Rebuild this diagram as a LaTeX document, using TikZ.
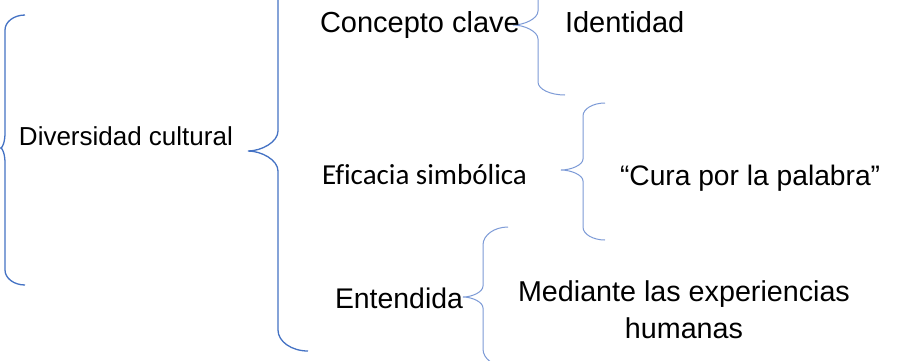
\documentclass[tikz,border=0pt]{standalone}
\usepackage{fontspec}
\setmainfont{Liberation Sans}
\newfontfamily\calibfont[Ligatures=NoCommon]{Carlito}
\definecolor{bracebig}{RGB}{68,114,196}
\definecolor{bracesmall}{RGB}{125,155,215}
\newcommand{\mybrace}[9]{% #1 style, #2 xe, #3 ytop, #4 xv, #5 r, #6 xt, #7 ym, #8 r2, #9 ybot
  \draw[#1] (#2,#3) .. controls ({#4+0.45*(#2-#4)},#3) and (#4,{#3+0.45*#5}) .. (#4,{#3+#5})
    -- (#4,{#7-#8}) .. controls (#4,{#7-0.45*#8}) and ({#6+0.45*(#4-#6)},#7) .. (#6,#7)
    .. controls ({#6+0.45*(#4-#6)},#7) and (#4,{#7+0.45*#8}) .. (#4,{#7+#8})
    -- (#4,{#9-#5}) .. controls (#4,{#9-0.45*#5}) and ({#4+0.45*(#2-#4)},#9) .. (#2,#9);}
\tikzset{
  bigbrace/.style={draw=bracebig, line width=1.3pt},
  smallbrace/.style={draw=bracesmall, line width=1pt},
  lbl/.style={inner sep=0pt, outer sep=0pt, anchor=base west, text=black},
}
\begin{document}
\begin{tikzpicture}[x=1pt,y=-1pt]
\clip (0,0) rectangle (898,360);
\fill[white] (0,0) rectangle (898,360);
% braces
\mybrace{bigbrace}{25}{15}{5}{15}{0.7}{148}{15}{285}
\mybrace{bigbrace}{308}{-48}{278}{21}{248}{151}{20}{351}
\mybrace{smallbrace}{565}{-45}{538}{13}{513}{25}{14}{95}
\mybrace{smallbrace}{605}{103}{583}{13}{561}{170}{11}{240}
\mybrace{smallbrace}{508}{227}{483}{18}{463}{297}{11}{367}
% labels
\node[lbl, font=\fontsize{26}{30}\selectfont] (div) at (19,145.5) {Diversidad cultural};
\node[lbl, font=\fontsize{29}{35}\selectfont] (con) at (320,32) {Concepto clave};
\node[lbl, font=\fontsize{29}{35}\selectfont] (ide) at (565,32) {Identidad};
\node[lbl, font=\calibfont\fontsize{29}{35}\selectfont] (efi) at (322,184) {Eficacia simbólica};
\node[lbl, font=\fontsize{28.2}{35}\selectfont] (cur) at (620,185) {“Cura por la palabra”};
\node[lbl, font=\fontsize{28.4}{35}\selectfont] (ent) at (335,308) {Entendida};
\node[inner sep=0pt, outer sep=0pt, anchor=base, align=center, font=\fontsize{28.7}{37}\selectfont] (med) at (684,338) {Mediante las experiencias\\humanas};
\end{tikzpicture}
\end{document}
